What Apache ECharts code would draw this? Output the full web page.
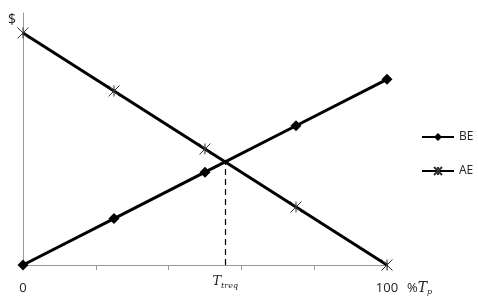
<!DOCTYPE html>
<html><head><meta charset="utf-8">
<script src="https://cdn.jsdelivr.net/npm/echarts@6/dist/echarts.min.js"></script>
<style>html,body{margin:0;padding:0;background:#fff}#c{width:478px;height:307px}</style>
</head><body><div id="c"></div>
<script>
const xValues = [0, 25, 50, 75, 100];
const beValues = [0, 20, 40, 60, 80];
const aeValues = [100, 75, 50, 25, 0];
const xTickLabels = ['0', '100'];

// intersection of BE and AE (linear)
const beSlope = (beValues[4] - beValues[0]) / (xValues[4] - xValues[0]);
const aeSlope = (aeValues[4] - aeValues[0]) / (xValues[4] - xValues[0]);
const xEq = (aeValues[0] - beValues[0]) / (beSlope - aeSlope);
const yEq = beValues[0] + beSlope * xEq;

const font = 'Open Sans';
const chart = echarts.init(document.getElementById('c'));
const star = 'path://M0,0L10,10M10,0L0,10M5,0L5,10';
chart.setOption({
  animation: false,
  textStyle: {fontFamily: font},
  grid: {left: 23, right: 91, top: 13, bottom: 42},
  legend: {
    orient: 'vertical', left: 416, top: 126, itemGap: 22,
    itemWidth: 32, itemHeight: 10,
    textStyle: {fontSize: 12, color: '#222', fontFamily: font},
    data: ['BE', 'AE']
  },
  xAxis: {
    type: 'value', min: 0, max: 100, interval: 20,
    axisLine: {lineStyle: {color: '#999', width: 1}},
    axisTick: {show: true, length: 5, lineStyle: {color: '#999'}},
    splitLine: {show: false},
    axisLabel: {
      margin: 17, color: '#222', fontSize: 13,
      formatter: v => (v === 0 ? xTickLabels[0] : (v === 100 ? xTickLabels[1] : ''))
    },
    name: '%{i|T}{s|p}', nameLocation: 'end', nameGap: 20,
    nameTextStyle: {
      color: '#222', fontSize: 13, padding: [46, 0, 0, 0],
      rich: {i: {fontStyle: 'italic', fontSize: 14, color: '#222', fontFamily: 'DejaVu Serif'}, s: {fontStyle: 'italic', fontSize: 8, color: '#222', padding: [7, 0, 0, 0], fontFamily: 'DejaVu Serif'}}
    }
  },
  yAxis: {
    type: 'value', min: 0, max: 108.6, interval: 50,
    axisLine: {show: true, lineStyle: {color: '#999', width: 1}},
    axisTick: {show: false},
    splitLine: {show: false},
    axisLabel: {show: false},
    name: '$', nameLocation: 'end', nameGap: 0,
    nameTextStyle: {color: '#222', fontSize: 14, align: 'right', verticalAlign: 'top', padding: [0, 7, 0, 0]}
  },
  series: [
    {
      name: 'BE', type: 'line',
      data: xValues.map((x, i) => [x, beValues[i]]),
      symbol: 'diamond', symbolSize: 11,
      lineStyle: {color: '#000', width: 3},
      itemStyle: {color: '#000'},
      markLine: {
        silent: true, symbol: 'none',
        lineStyle: {color: '#000', type: [6, 4], width: 1.2},
        label: {
          show: true, position: 'start', distance: 9,
          formatter: '{t|T}{s|treq}',
          rich: {
            t: {fontStyle: 'italic', fontSize: 13, color: '#222', fontFamily: 'DejaVu Serif'},
            s: {fontStyle: 'italic', fontSize: 8, color: '#222', padding: [8, 0, 0, 0], fontFamily: 'DejaVu Serif'}
          }
        },
        data: [[{coord: [xEq, 0]}, {coord: [xEq, yEq]}]]
      }
    },
    {
      name: 'AE', type: 'line',
      data: xValues.map((x, i) => [x, aeValues[i]]),
      symbol: star, symbolSize: 11,
      lineStyle: {color: '#000', width: 3},
      itemStyle: {color: 'rgba(0,0,0,0)', borderColor: '#333', borderWidth: 1}
    }
  ]
});
</script></body></html>
